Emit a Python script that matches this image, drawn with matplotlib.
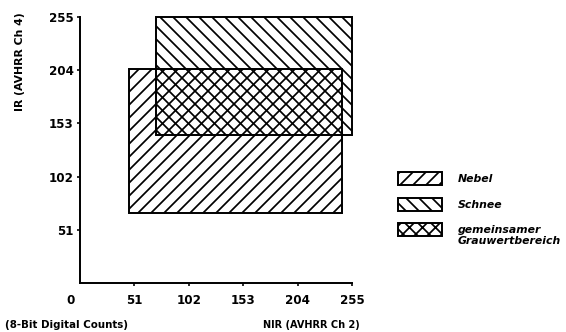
import matplotlib
matplotlib.use("Agg")
import matplotlib.pyplot as plt
from matplotlib.patches import Rectangle

# grey-value ranges (8-bit counts) per class: (x0, x1, y0, y1)
classes = ["Nebel", "Schnee"]
nir_ranges = [(46, 246), (71, 255)]
ir_ranges = [(67, 205), (142, 255)]
hatches = ["//", "\\\\"]

ticks = [51, 102, 153, 204, 255]
legend_labels = ["Nebel", "Schnee", "gemeinsamer\nGrauwertbereich"]
legend_hatches = ["//", "\\\\", "xx"]

DPI = 78
W, H = 566, 332
plt.rcParams["hatch.linewidth"] = 1.6
plt.rcParams["font.family"] = "DejaVu Sans"
plt.rcParams["font.weight"] = "bold"

fig = plt.figure(figsize=(W / DPI, H / DPI), dpi=DPI)
ax = fig.add_axes([80 / W, 1 - 283 / H, 272 / W, 266 / H])
ax.set_xlim(0, 255)
ax.set_ylim(0, 255)

for name, (x0, x1), (y0, y1), h in zip(classes, nir_ranges, ir_ranges, hatches):
    ax.add_patch(Rectangle((x0, y0), x1 - x0, y1 - y0, facecolor="none",
                           edgecolor="black", linewidth=1.8, hatch=h,
                           clip_on=False))

for s in ["top", "right"]:
    ax.spines[s].set_visible(False)
for s in ["left", "bottom"]:
    ax.spines[s].set_linewidth(1.8)

ax.set_xticks(ticks)
ax.set_yticks(ticks)
ax.set_xticklabels([str(t) for t in ticks])
ax.set_yticklabels([str(t) for t in ticks])
ax.tick_params(axis="both", direction="out", length=3, width=1.5,
               labelsize=11, pad=3)
ax.tick_params(axis="x", pad=7)
ax.annotate("0", xy=(0, 0), xytext=(-9, -10), textcoords="offset points",
            ha="center", va="top", fontsize=11, fontweight="bold",
            annotation_clip=False)

fig.text(20 / W, 1 - 62 / H, "IR (AVHRR Ch 4)", rotation=90, ha="center",
         va="center", fontsize=10, fontweight="bold")
fig.text(5 / W, 1 - 325 / H, "(8-Bit Digital Counts)", ha="left",
         va="center", fontsize=9.5, fontweight="bold")
fig.text(311 / W, 1 - 325 / H, "NIR (AVHRR Ch 2)", ha="center",
         va="center", fontsize=9, fontweight="bold")

# legend keys drawn on a pixel-space overlay
lax = fig.add_axes([0, 0, 1, 1])
lax.set_xlim(0, W)
lax.set_ylim(H, 0)
lax.axis("off")
for i, (lab, h) in enumerate(zip(legend_labels, legend_hatches)):
    top = 172 + i * 25.5
    lax.add_patch(Rectangle((398, top), 44, 13, facecolor="none",
                            edgecolor="black", linewidth=1.8, hatch=h))
    lax.text(458, top + 2, lab, ha="left", va="top", fontsize=10,
             fontweight="bold", style="italic", linespacing=1.1)

fig.savefig("out.png", dpi=DPI)
